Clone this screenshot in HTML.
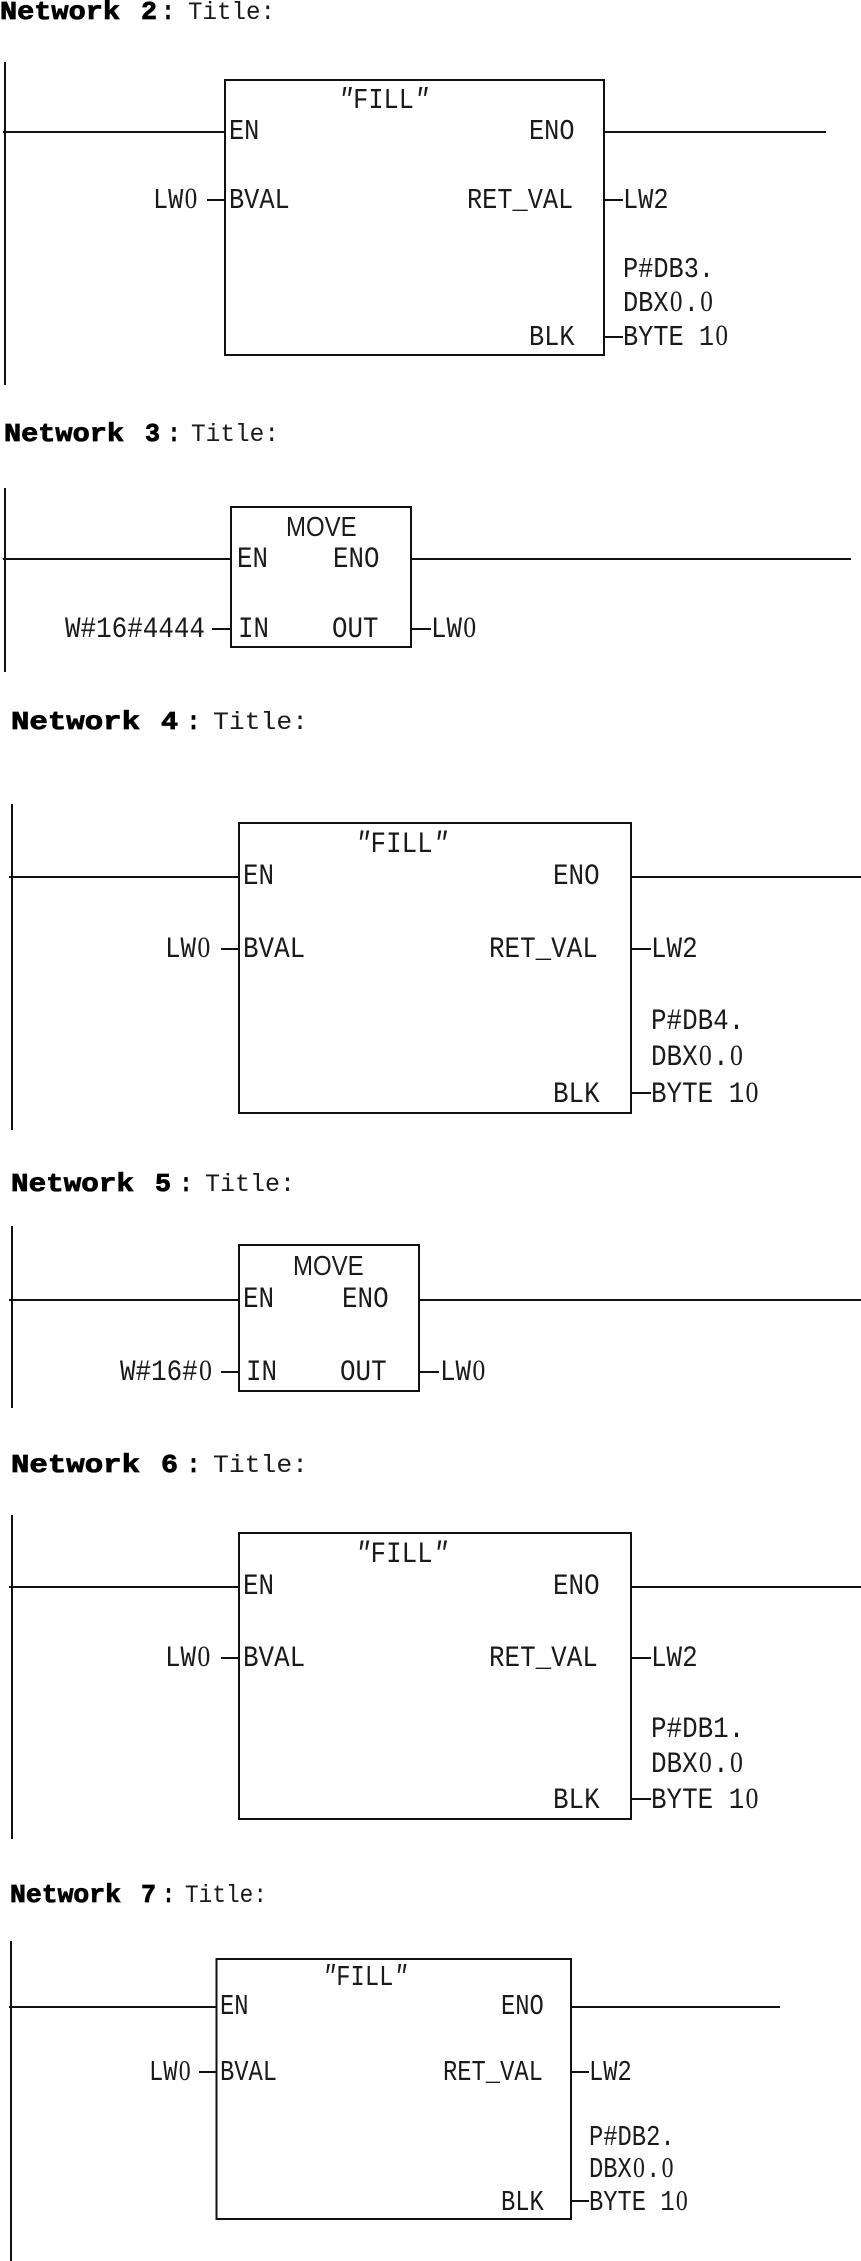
<!DOCTYPE html>
<html>
<head>
<meta charset="utf-8">
<style>
html,body{margin:0;padding:0;background:#fff;width:861px;height:2261px;overflow:hidden}
svg{display:block}
text{font-family:"Liberation Mono",monospace;fill:#1a1a1a;white-space:pre}
.m{font-family:"Liberation Sans",sans-serif;font-size:24px}
.h{font-weight:bold;font-size:26px;fill:#000;stroke:#000;stroke-width:.8}
.t{font-size:24px}
.a{font-size:25.3px}.b{font-size:25.8px}.c{font-size:25.9px}.d{font-size:23.8px}
.q{font-style:italic}
.z{font-family:"Liberation Serif",serif}
.w{stroke:#111;stroke-width:2;fill:none}
.box{stroke:#111;stroke-width:2;fill:#fff}
</style>
</head>
<body>
<svg width="861" height="2261" viewBox="0 0 861 2261" xmlns="http://www.w3.org/2000/svg">
<rect width="861" height="2261" fill="#fff"/>

<!-- Network 2 -->
<text class="h" transform="translate(0,19)" textLength="120" lengthAdjust="spacingAndGlyphs">Network</text>
<text class="h" transform="translate(141,19)" textLength="16" lengthAdjust="spacingAndGlyphs">2</text>
<text class="h" transform="translate(162,19)" textLength="12" lengthAdjust="spacingAndGlyphs">:</text>
<text class="t" transform="translate(188,19) scale(1,1.05)" textLength="87" lengthAdjust="spacingAndGlyphs">Title:</text>
<path class="w" d="M5 62V385M3 132H225M604 132H826M207 200H225M604 200H623M604 337H623"/>
<rect class="box" x="225" y="80" width="379" height="275"/>
<text class="a" transform="translate(338,108) scale(1,1.15)"><tspan class="q">"</tspan>FILL<tspan class="q">"</tspan></text>
<text class="a" transform="translate(229,139) scale(1,1.15)">EN</text>
<text class="a" transform="translate(529,139) scale(1,1.15)">ENO</text>
<text class="a" transform="translate(153,208) scale(1,1.15)">LW<tspan class="z" dx="1.3">0</tspan></text>
<text class="a" transform="translate(229,208) scale(1,1.15)">BVAL</text>
<text class="a" transform="translate(467,208) scale(1,1.15)">RET_VAL</text>
<text class="a" transform="translate(623,208) scale(1,1.15)">LW2</text>
<text class="a" transform="translate(623,277) scale(1,1.15)">P#DB3.</text>
<text class="a" transform="translate(623,311) scale(1,1.15)">DBX<tspan class="z" dx="1.3">0</tspan><tspan dx="1.3">.</tspan><tspan class="z" dx="1.3">0</tspan></text>
<text class="a" transform="translate(529,345) scale(1,1.15)">BLK</text>
<text class="a" transform="translate(623,345) scale(1,1.15)">BYTE 1<tspan class="z" dx="1.3">0</tspan></text>

<!-- Network 3 -->
<text class="h" transform="translate(4,441)" textLength="120" lengthAdjust="spacingAndGlyphs">Network</text>
<text class="h" transform="translate(145,441)" textLength="15" lengthAdjust="spacingAndGlyphs">3</text>
<text class="h" transform="translate(168,441)" textLength="12" lengthAdjust="spacingAndGlyphs">:</text>
<text class="t" transform="translate(191,441) scale(1,1.05)" textLength="88" lengthAdjust="spacingAndGlyphs">Title:</text>
<path class="w" d="M5 488V672M3 559H231M411 559H851M212 629H231M411 629H431"/>
<rect class="box" x="231" y="507" width="180" height="140"/>
<text class="m" transform="translate(286,536) scale(1,1.15)">MOVE</text>
<text class="b" transform="translate(237,567) scale(1,1.15)">EN</text>
<text class="b" transform="translate(333,567) scale(1,1.15)">ENO</text>
<text class="b" transform="translate(65,637) scale(1,1.15)" textLength="140" lengthAdjust="spacingAndGlyphs">W#16#4444</text>
<text class="b" transform="translate(238,637) scale(1,1.15)">IN</text>
<text class="b" transform="translate(332,637) scale(1,1.15)">OUT</text>
<text class="b" transform="translate(431,637) scale(1,1.15)">LW<tspan class="z" dx="1.3">0</tspan></text>

<!-- Network 4 -->
<text class="h" transform="translate(11,729)" textLength="129" lengthAdjust="spacingAndGlyphs">Network</text>
<text class="h" transform="translate(161,729)" textLength="17" lengthAdjust="spacingAndGlyphs">4</text>
<text class="h" transform="translate(187,729)" textLength="13" lengthAdjust="spacingAndGlyphs">:</text>
<text class="t" transform="translate(213,729) scale(1,1.05)" textLength="95" lengthAdjust="spacingAndGlyphs">Title:</text>
<path class="w" d="M12 804V1130M9 877H239M631 877H861M221 949H239M631 949H651M631 1093H651"/>
<rect class="box" x="239" y="823" width="392" height="290"/>
<text class="c" transform="translate(355,852) scale(1,1.15)"><tspan class="q">"</tspan>FILL<tspan class="q">"</tspan></text>
<text class="c" transform="translate(243,884) scale(1,1.15)">EN</text>
<text class="c" transform="translate(553,884) scale(1,1.15)">ENO</text>
<text class="c" transform="translate(165,957) scale(1,1.15)">LW<tspan class="z" dx="1.3">0</tspan></text>
<text class="c" transform="translate(243,957) scale(1,1.15)">BVAL</text>
<text class="c" transform="translate(489,957) scale(1,1.15)">RET_VAL</text>
<text class="c" transform="translate(651,957) scale(1,1.15)">LW2</text>
<text class="c" transform="translate(651,1029) scale(1,1.15)">P#DB4.</text>
<text class="c" transform="translate(651,1065) scale(1,1.15)">DBX<tspan class="z" dx="1.3">0</tspan><tspan dx="1.3">.</tspan><tspan class="z" dx="1.3">0</tspan></text>
<text class="c" transform="translate(553,1102) scale(1,1.15)">BLK</text>
<text class="c" transform="translate(651,1102) scale(1,1.15)">BYTE 1<tspan class="z" dx="1.3">0</tspan></text>

<!-- Network 5 -->
<text class="h" transform="translate(11,1191)" textLength="123" lengthAdjust="spacingAndGlyphs">Network</text>
<text class="h" transform="translate(155,1191)" textLength="16" lengthAdjust="spacingAndGlyphs">5</text>
<text class="h" transform="translate(180,1191)" textLength="12" lengthAdjust="spacingAndGlyphs">:</text>
<text class="t" transform="translate(205,1191) scale(1,1.05)" textLength="90" lengthAdjust="spacingAndGlyphs">Title:</text>
<path class="w" d="M12 1226V1408M9 1300H239M419 1300H861M221 1372H239M419 1372H439"/>
<rect class="box" x="239" y="1245" width="180" height="146"/>
<text class="m" transform="translate(293,1275) scale(1,1.15)">MOVE</text>
<text class="c" transform="translate(243,1307) scale(1,1.15)">EN</text>
<text class="c" transform="translate(342,1307) scale(1,1.15)">ENO</text>
<text class="c" transform="translate(120,1380) scale(1,1.15)">W#16#<tspan class="z" dx="1.3">0</tspan></text>
<text class="c" transform="translate(246,1380) scale(1,1.15)">IN</text>
<text class="c" transform="translate(340,1380) scale(1,1.15)">OUT</text>
<text class="c" transform="translate(440,1380) scale(1,1.15)">LW<tspan class="z" dx="1.3">0</tspan></text>

<!-- Network 6 -->
<text class="h" transform="translate(11,1472)" textLength="129" lengthAdjust="spacingAndGlyphs">Network</text>
<text class="h" transform="translate(161,1472)" textLength="17" lengthAdjust="spacingAndGlyphs">6</text>
<text class="h" transform="translate(187,1472)" textLength="13" lengthAdjust="spacingAndGlyphs">:</text>
<text class="t" transform="translate(213,1472) scale(1,1.05)" textLength="95" lengthAdjust="spacingAndGlyphs">Title:</text>
<path class="w" d="M12 1515V1839M9 1587H239M631 1587H861M221 1658H239M631 1658H651M631 1799H651"/>
<rect class="box" x="239" y="1533" width="392" height="286"/>
<text class="c" transform="translate(355,1562) scale(1,1.15)"><tspan class="q">"</tspan>FILL<tspan class="q">"</tspan></text>
<text class="c" transform="translate(243,1594) scale(1,1.15)">EN</text>
<text class="c" transform="translate(553,1594) scale(1,1.15)">ENO</text>
<text class="c" transform="translate(165,1666) scale(1,1.15)">LW<tspan class="z" dx="1.3">0</tspan></text>
<text class="c" transform="translate(243,1666) scale(1,1.15)">BVAL</text>
<text class="c" transform="translate(489,1666) scale(1,1.15)">RET_VAL</text>
<text class="c" transform="translate(651,1666) scale(1,1.15)">LW2</text>
<text class="c" transform="translate(651,1737) scale(1,1.15)">P#DB1.</text>
<text class="c" transform="translate(651,1772) scale(1,1.15)">DBX<tspan class="z" dx="1.3">0</tspan><tspan dx="1.3">.</tspan><tspan class="z" dx="1.3">0</tspan></text>
<text class="c" transform="translate(553,1808) scale(1,1.15)">BLK</text>
<text class="c" transform="translate(651,1808) scale(1,1.15)">BYTE 1<tspan class="z" dx="1.3">0</tspan></text>

<!-- Network 7 -->
<text class="h" transform="translate(10,1902)" textLength="111" lengthAdjust="spacingAndGlyphs">Network</text>
<text class="h" transform="translate(141,1902)" textLength="15" lengthAdjust="spacingAndGlyphs">7</text>
<text class="h" transform="translate(163,1902)" textLength="11" lengthAdjust="spacingAndGlyphs">:</text>
<text class="t" transform="translate(185,1902) scale(1,1.05)" textLength="82" lengthAdjust="spacingAndGlyphs">Title:</text>
<path class="w" d="M11 1941V2261M9 2007H216M571 2007H780M199 2072H216M571 2072H589M571 2201H589"/>
<rect class="box" x="216.5" y="1959" width="354.5" height="260"/>
<text class="d" transform="translate(322,1985) scale(1,1.2)"><tspan class="q">"</tspan>FILL<tspan class="q">"</tspan></text>
<text class="d" transform="translate(220,2014) scale(1,1.2)">EN</text>
<text class="d" transform="translate(501,2014) scale(1,1.2)">ENO</text>
<text class="d" transform="translate(149,2080) scale(1,1.2)">LW<tspan class="z" dx="1.2">0</tspan></text>
<text class="d" transform="translate(220,2080) scale(1,1.2)">BVAL</text>
<text class="d" transform="translate(443,2080) scale(1,1.2)">RET_VAL</text>
<text class="d" transform="translate(589,2080) scale(1,1.2)">LW2</text>
<text class="d" transform="translate(589,2145) scale(1,1.2)">P#DB2.</text>
<text class="d" transform="translate(589,2177) scale(1,1.2)">DBX<tspan class="z" dx="1.2">0</tspan><tspan dx="1.2">.</tspan><tspan class="z" dx="1.2">0</tspan></text>
<text class="d" transform="translate(501,2210) scale(1,1.2)">BLK</text>
<text class="d" transform="translate(589,2210) scale(1,1.2)">BYTE 1<tspan class="z" dx="1.2">0</tspan></text>
</svg>
</body>
</html>
